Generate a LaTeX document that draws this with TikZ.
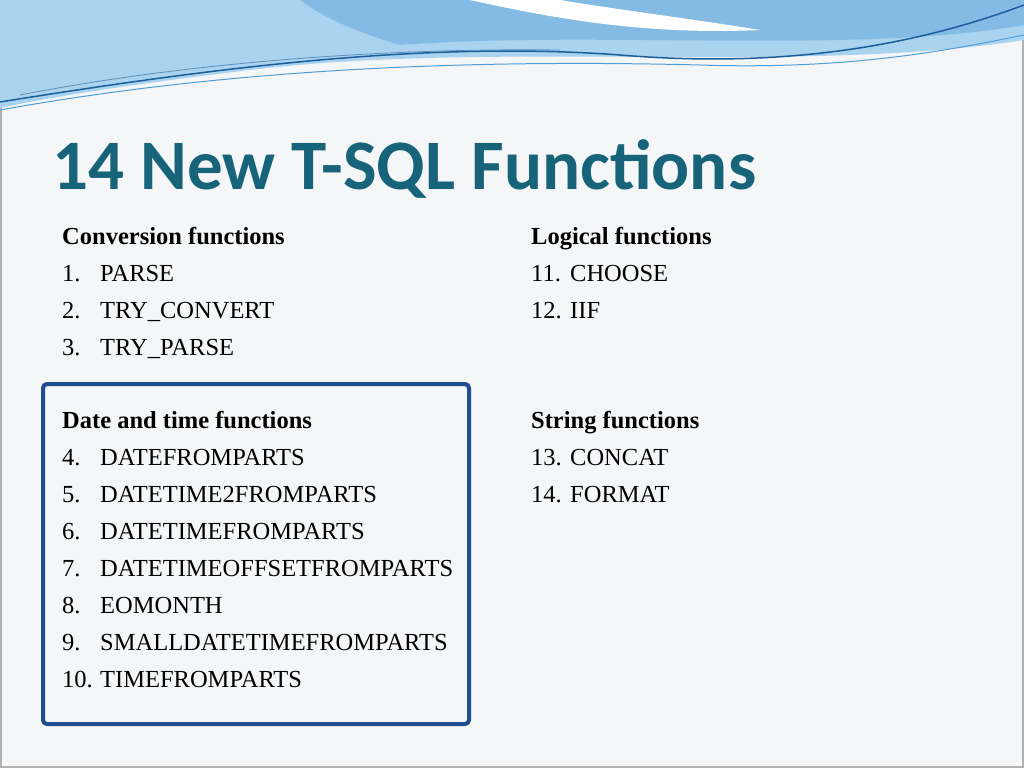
\documentclass[tikz,border=0pt]{standalone}
\usepackage{fontspec}
\setmainfont{Liberation Serif}
\newfontfamily\titlefont{Carlito}
\usetikzlibrary{positioning}
\definecolor{slidebg}{HTML}{F4F6F7}
\definecolor{titleblue}{HTML}{17647A}
\definecolor{boxblue}{HTML}{1F4E8C}
\definecolor{wavelight}{HTML}{A9D3EE}
\definecolor{wavemid}{HTML}{4F9ED8}
\definecolor{wavedark}{HTML}{1B5E9A}
\tikzset{
  head/.style={anchor=base west,inner sep=0pt,font=\fontsize{24.5}{24.5}\selectfont\bfseries},
  num/.style={anchor=base west,inner sep=0pt,font=\fontsize{24.5}{24.5}\selectfont},
  item/.style={anchor=base west,inner sep=0pt,font=\fontsize{24.5}{24.5}\selectfont}
}
\begin{document}
\begin{tikzpicture}[x=1pt,y=-1pt]
\useasboundingbox (0,0) rectangle (1024,768);
\fill[slidebg] (0,0) rectangle (1024,768);
\draw[gray!60,line width=1.5] (1,1) rectangle (1023,767);

% waves on top
\fill[wavelight] (0,0) -- (1024,0) -- (1024,40) .. controls (800,75) and (500,40) .. (250,70) .. controls (150,82) and (60,95) .. (0,108) -- cycle;
\fill[wavemid!70] (300,0) -- (1024,0) -- (1024,25) .. controls (850,55) and (600,30) .. (400,45) .. controls (350,30) and (320,15) .. (300,0) -- cycle;
\fill[white] (470,0) .. controls (560,20) and (650,35) .. (760,30) .. controls (700,20) and (620,10) .. (560,0) -- cycle;
\draw[wavedark,line width=1.5] (0,102) .. controls (200,70) and (420,40) .. (620,55) .. controls (800,70) and (930,40) .. (1024,5);
\draw[wavemid,line width=1] (0,110) .. controls (250,65) and (500,60) .. (700,65) .. controls (850,70) and (950,50) .. (1024,35);
\draw[wavedark!70,line width=0.8] (20,95) .. controls (200,60) and (400,48) .. (560,50);

% title
\node[anchor=base west,inner sep=0pt,text=titleblue,font=\titlefont\fontsize{71}{71}\selectfont\bfseries] (title) at (52,189) {14 New T-SQL Functions};

% highlight box
\draw[boxblue,line width=4,rounded corners=4] (43,384) rectangle (469,724);

% left column
\node[head] (conv) at (62,244) {Conversion functions};
\foreach \n/\t [count=\i] in {1./PARSE,2./TRY\_CONVERT,3./TRY\_PARSE}
  {\node[num] (cn\i) at (62,244+37*\i) {\n};
   \node[item] (ct\i) at (100,244+37*\i) {\t};}
\node[head] (date) at (62,428) {Date and time functions};
\foreach \n/\t [count=\i] in {4./DATEFROMPARTS,5./DATETIME2FROMPARTS,6./DATETIMEFROMPARTS,7./DATETIMEOFFSETFROMPARTS,8./EOMONTH,9./SMALLDATETIMEFROMPARTS,10./TIMEFROMPARTS}
  {\node[num] (dn\i) at (62,428+37*\i) {\n};
   \node[item] (dt\i) at (100,428+37*\i) {\t};}

% right column
\node[head] (logic) at (531,244) {Logical functions};
\foreach \n/\t [count=\i] in {11./CHOOSE,12./IIF}
  {\node[num] (ln\i) at (531,244+37*\i) {\n};
   \node[item] (lt\i) at (570,244+37*\i) {\t};}
\node[head] (str) at (531,428) {String functions};
\foreach \n/\t [count=\i] in {13./CONCAT,14./FORMAT}
  {\node[num] (sn\i) at (531,428+37*\i) {\n};
   \node[item] (st\i) at (570,428+37*\i) {\t};}
\end{tikzpicture}
\end{document}
